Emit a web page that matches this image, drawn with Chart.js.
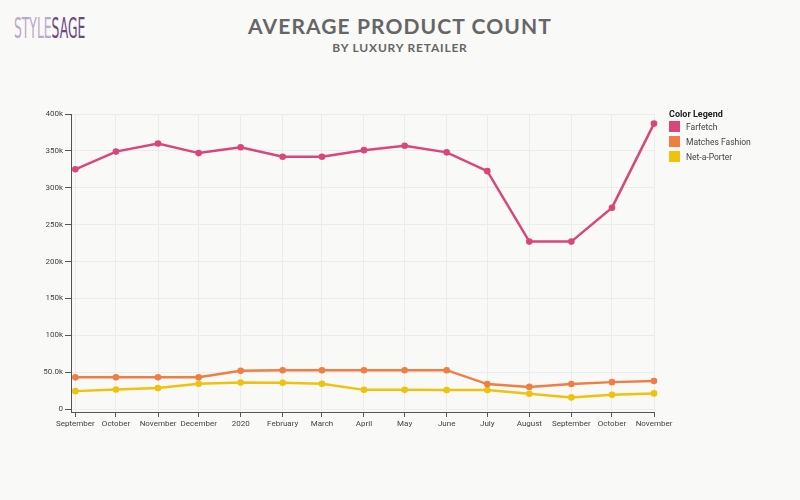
<!DOCTYPE html>
<html>
<head>
<meta charset="utf-8">
<script src="https://cdn.jsdelivr.net/npm/chart.js@4"></script>
<style>
    html, body { margin: 0; padding: 0; background: #f9f9f8; }
    #wrap { position: relative; width: 800px; height: 500px; }
    #chart { position: absolute; left: 0; top: 0; }
    .logo { position: absolute; left: 14px; top: 12px; font-family: 'DejaVu Sans Condensed', 'Liberation Sans Narrow', sans-serif; font-size: 28px; transform: scaleX(0.49); transform-origin: left top; }
    .logo .a { color: #b9a9cb; font-weight: 300; }
    .logo .b { color: #6a4a7c; }
    .title { position: absolute; left: 0; width: 800px; top: 13px; text-align: center; font-family: Lato, 'Open Sans', sans-serif; font-weight: 700; font-size: 21px; letter-spacing: 1.1px; color: #666; }
    .subtitle { position: absolute; left: 0; width: 800px; top: 40px; text-align: center; font-family: Lato, 'Open Sans', sans-serif; font-weight: 700; font-size: 12px; letter-spacing: 0.8px; color: #666; }
    #legend { position: absolute; left: 669px; top: 109px; font-family: Roboto, 'Liberation Sans', sans-serif; font-size: 8.5px; color: #444; }
    #legend .head { font-weight: 700; font-size: 9px; line-height: 10px; color: #222; margin-bottom: 0; }
    #legend .item { height: 15px; display: flex; align-items: center; }
    #legend .sw { width: 11px; height: 11px; margin-right: 6px; }
</style>
</head>
<body>
<div id="wrap">
    <div class="logo"><span class="a">STYLE</span><span class="b">SAGE</span></div>
    <div class="title">AVERAGE PRODUCT COUNT</div>
    <div class="subtitle">BY LUXURY RETAILER</div>
    <canvas id="chart" width="800" height="500"></canvas>
    <div id="legend"><div class="head">Color Legend</div></div>
</div>
<script>
// one point per month, first day of the month
const dates = ['2019-09-01', '2019-10-01', '2019-11-01', '2019-12-01', '2020-01-01', '2020-02-01', '2020-03-01',
    '2020-04-01', '2020-05-01', '2020-06-01', '2020-07-01', '2020-08-01', '2020-09-01', '2020-10-01', '2020-11-01'];
const monthLabels = ['September', 'October', 'November', 'December', '2020', 'February', 'March',
    'April', 'May', 'June', 'July', 'August', 'September', 'October', 'November'];

const farfetch = [325000, 349000, 360000, 347000, 355000, 342000, 342000, 351000, 357000, 348000, 322500, 227000, 227000, 273000, 387000];
const matchesFashion = [43000, 43000, 43000, 43000, 51800, 52700, 52700, 52700, 52700, 52700, 33800, 30000, 34000, 36500, 38000];
const netAPorter = [24300, 26600, 28400, 34200, 36000, 35600, 34200, 26000, 26000, 25700, 25700, 20700, 15800, 19300, 21200];

const yTicks = [0, 50000, 100000, 150000, 200000, 250000, 300000, 350000, 400000];

const seriesNames = ['Farfetch', 'Matches Fashion', 'Net-a-Porter'];
const seriesColors = ['#d8467a', '#ee7e42', '#efc20e'];

// days since the first date, used as the x value
const dayOf = d => (Date.parse(d) - Date.parse(dates[0])) / 86400000;
const xDays = dates.map(dayOf);

const fmtK = v => {
    if (v === 0) return '0';
    const k = v / 1000;
    return (k < 100 ? k.toFixed(1) : k.toFixed(0)) + 'k';
};

const makeSet = (label, values, color) => ({
    label: label,
    data: values.map((v, i) => ({ x: xDays[i], y: v })),
    borderColor: color,
    backgroundColor: color,
    borderWidth: 2.5,
    pointRadius: 3.3,
    pointHoverRadius: 3.3,
    pointBorderWidth: 0,
    tension: 0,
    clip: false
});

const allValues = [farfetch, matchesFashion, netAPorter];
const datasets = allValues.map((vals, i) => makeSet(seriesNames[i], vals, seriesColors[i]));

// legend
const legend = document.getElementById('legend');
seriesNames.forEach((name, i) => {
    const item = document.createElement('div');
    item.className = 'item';
    item.innerHTML = `<span class="sw" style="background:${seriesColors[i]}"></span>${name}`;
    legend.appendChild(item);
});

const tickFont = { family: "Roboto, 'Liberation Sans', sans-serif", size: 8 };

new Chart(document.getElementById('chart'), {
    type: 'line',
    data: { datasets: datasets },
    options: {
        responsive: false,
        animation: false,
        layout: { padding: { left: 0, top: 114, right: 146, bottom: 0 } },
        plugins: { legend: { display: false }, tooltip: { enabled: false } },
        scales: {
            x: {
                type: 'linear',
                min: -3.2,
                max: xDays[xDays.length - 1],
                afterBuildTicks: scale => { scale.ticks = xDays.map(v => ({ value: v })); },
                afterFit: scale => { scale.height = 88; },
                ticks: {
                    callback: (v, i) => monthLabels[i],
                    font: tickFont,
                    color: '#444',
                    padding: 2,
                    maxRotation: 0,
                    autoSkip: false
                },
                grid: { color: '#ececec', tickColor: '#555', tickLength: 5, drawOnChartArea: true },
                border: { color: '#555', width: 1 }
            },
            y: {
                min: -4000,
                max: 400000,
                afterBuildTicks: scale => { scale.ticks = yTicks.map(v => ({ value: v })); },
                afterFit: scale => { scale.width = 71; },
                ticks: {
                    callback: v => fmtK(v),
                    font: tickFont,
                    color: '#444',
                    padding: 2
                },
                grid: { color: '#ececec', tickColor: '#555', tickLength: 6 },
                border: { color: '#555', width: 1 }
            }
        }
    }
});
</script>
</body>
</html>
